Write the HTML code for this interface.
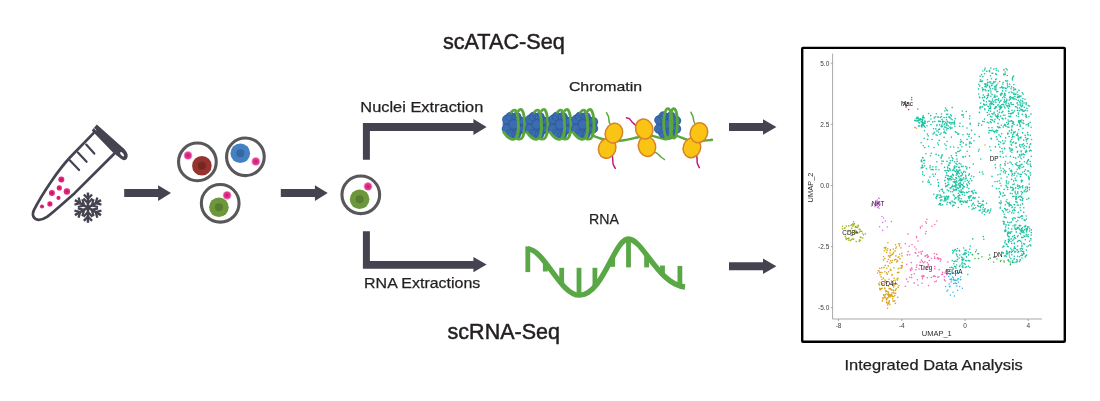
<!DOCTYPE html><html><head><meta charset="utf-8"><title>scATAC / scRNA workflow</title>
<style>html,body{margin:0;padding:0;background:#fff;}body{width:1100px;height:401px;overflow:hidden;font-family:"Liberation Sans",sans-serif;}svg{display:block;position:absolute;left:0;top:0;}text{font-family:"Liberation Sans",sans-serif;fill:#231f20;}svg{will-change:transform;}</style>
</head><body>
<svg width="1100" height="401" viewBox="0 0 1100 401">
<rect width="1100" height="401" fill="#ffffff"/>
<g id="tube" fill="none" stroke="#454350" stroke-linecap="round" stroke-linejoin="round">
<path d="M93.8 132.9 L69.9 157.5 C62 166,57 173,50.9 181.9 C45 190.5,39 200,34 209.9 C31.5 215,33.5 219.5,38.5 219.8 C41.5 219.9,44.5 218.6,47 216.9 C56 210,65 201.5,74.9 192.9 L113.7 154.2" stroke-width="2.7"/>
<path d="M86.2 144.6L94.3 153.6M77.9 152.5L86.6 161.8M70 160.4L79.1 170" stroke-width="2.2"/>
</g>
<path d="M96.8 124.6 L122.6 147.6 C126 150.5,128.6 154,127.5 157.2 C126.4 160.6,123.5 161,121 158.8 L113.7 153.2 L91.7 130.6 Z" fill="#454350"/>
<ellipse cx="122.1" cy="154.3" rx="2.7" ry="1.25" transform="rotate(50 122.1 154.3)" fill="#fff"/>
<path d="M94.3 128.4L96.2 130.2" stroke="#fff" stroke-width="0.8"/>
<circle cx="61.3" cy="179.5" r="3" fill="#e4247f"/><circle cx="61.3" cy="179.5" r="1.05" fill="#a8175f"/>
<circle cx="59.3" cy="187.9" r="2.6" fill="#e4247f"/><circle cx="59.3" cy="187.9" r="0.91" fill="#a8175f"/>
<circle cx="66.9" cy="191.5" r="3.2" fill="#e4247f"/><circle cx="66.9" cy="191.5" r="1.12" fill="#a8175f"/>
<circle cx="51.9" cy="192.9" r="3" fill="#e4247f"/><circle cx="51.9" cy="192.9" r="1.05" fill="#a8175f"/>
<circle cx="58.5" cy="197.9" r="2.1" fill="#e4247f"/><circle cx="58.5" cy="197.9" r="0.73" fill="#a8175f"/>
<circle cx="49.9" cy="203.9" r="2.6" fill="#e4247f"/><circle cx="49.9" cy="203.9" r="0.91" fill="#a8175f"/>
<circle cx="42" cy="206.5" r="2.1" fill="#e4247f"/><circle cx="42" cy="206.5" r="0.73" fill="#a8175f"/>
<g stroke="#454350" stroke-linecap="butt" fill="none" transform="translate(87.95 207.65)">
<g transform="rotate(0)"><path d="M0 0V-15.1" stroke-width="2.5"/><path d="M0 -4.4L-4.5 -9.1M0 -4.4L4.5 -9.1" stroke-width="2.3"/><path d="M0 -9.0L-4.1 -13.2M0 -9.0L4.1 -13.2" stroke-width="2.3"/></g>
<g transform="rotate(60)"><path d="M0 0V-15.1" stroke-width="2.5"/><path d="M0 -4.4L-4.5 -9.1M0 -4.4L4.5 -9.1" stroke-width="2.3"/><path d="M0 -9.0L-4.1 -13.2M0 -9.0L4.1 -13.2" stroke-width="2.3"/></g>
<g transform="rotate(120)"><path d="M0 0V-15.1" stroke-width="2.5"/><path d="M0 -4.4L-4.5 -9.1M0 -4.4L4.5 -9.1" stroke-width="2.3"/><path d="M0 -9.0L-4.1 -13.2M0 -9.0L4.1 -13.2" stroke-width="2.3"/></g>
<g transform="rotate(180)"><path d="M0 0V-15.1" stroke-width="2.5"/><path d="M0 -4.4L-4.5 -9.1M0 -4.4L4.5 -9.1" stroke-width="2.3"/><path d="M0 -9.0L-4.1 -13.2M0 -9.0L4.1 -13.2" stroke-width="2.3"/></g>
<g transform="rotate(240)"><path d="M0 0V-15.1" stroke-width="2.5"/><path d="M0 -4.4L-4.5 -9.1M0 -4.4L4.5 -9.1" stroke-width="2.3"/><path d="M0 -9.0L-4.1 -13.2M0 -9.0L4.1 -13.2" stroke-width="2.3"/></g>
<g transform="rotate(300)"><path d="M0 0V-15.1" stroke-width="2.5"/><path d="M0 -4.4L-4.5 -9.1M0 -4.4L4.5 -9.1" stroke-width="2.3"/><path d="M0 -9.0L-4.1 -13.2M0 -9.0L4.1 -13.2" stroke-width="2.3"/></g>
</g>
<path d="M124.2 189.1H158.1V185.29999999999998L171 193.1L158.1 200.9V197.1H124.2Z" fill="#454350"/>
<circle cx="197.4" cy="161.9" r="18.85" fill="#fff" stroke="#58585b" stroke-width="3.1"/>
<circle cx="201.9" cy="165.7" r="9.8" fill="#96332f"/><circle cx="201.9" cy="165.7" r="4" fill="#762724"/>
<circle cx="188" cy="155.4" r="4.4" fill="#f5a3ca"/><circle cx="188" cy="155.4" r="3.5" fill="#e5308a"/><circle cx="188" cy="155.4" r="1.4" fill="#b0287a"/>
<circle cx="245.4" cy="156.8" r="18.85" fill="#fff" stroke="#58585b" stroke-width="3.1"/>
<circle cx="240.3" cy="153.2" r="9.8" fill="#4580c2"/><circle cx="240.3" cy="153.2" r="4" fill="#34689f"/>
<circle cx="255.8" cy="161.4" r="4.4" fill="#f5a3ca"/><circle cx="255.8" cy="161.4" r="3.5" fill="#e5308a"/><circle cx="255.8" cy="161.4" r="1.4" fill="#b0287a"/>
<circle cx="220.2" cy="203.3" r="18.85" fill="#fff" stroke="#58585b" stroke-width="3.1"/>
<circle cx="218.9" cy="207.3" r="9.8" fill="#6c983b"/><circle cx="218.9" cy="207.3" r="4" fill="#587c30"/>
<circle cx="227.1" cy="195.3" r="4.4" fill="#f5a3ca"/><circle cx="227.1" cy="195.3" r="3.5" fill="#e5308a"/><circle cx="227.1" cy="195.3" r="1.4" fill="#b0287a"/>
<path d="M280.8 189.1H314.9V185.29999999999998L327.7 193.1L314.9 200.9V197.1H280.8Z" fill="#454350"/>
<circle cx="360.8" cy="194.8" r="18.85" fill="#fff" stroke="#58585b" stroke-width="3.1"/>
<circle cx="359.6" cy="199.3" r="9.8" fill="#6c983b"/><circle cx="359.6" cy="199.3" r="4" fill="#587c30"/>
<circle cx="368" cy="186.4" r="4.4" fill="#f5a3ca"/><circle cx="368" cy="186.4" r="3.5" fill="#e5308a"/><circle cx="368" cy="186.4" r="1.4" fill="#b0287a"/>
<path d="M362.9 159.8V122.9H473.4V119.1L486.6 127L473.4 134.9V131.1H369.9V159.8Z" fill="#454350"/>
<path d="M362.9 231.2V268.8H473.4V272.3L486.6 264.6L473.4 256.9V261.1H369.9V231.2Z" fill="#454350"/>
<path d="M729 123.0H763V119.2L776.4 127L763 134.8V131.0H729Z" fill="#454350"/>
<path d="M729 262.2H763V258.4L776.4 266.2L763 274.0V270.2H729Z" fill="#454350"/>
<text x="442.9" y="49.3" font-size="22.3" font-weight="normal" textLength="121.9" lengthAdjust="spacingAndGlyphs" stroke="#231f20" stroke-width="0.5">scATAC-Seq</text>
<text x="447.6" y="338.8" font-size="22.3" font-weight="normal" textLength="112.4" lengthAdjust="spacingAndGlyphs" stroke="#231f20" stroke-width="0.5">scRNA-Seq</text>
<text x="360.3" y="111.85" font-size="15.3" font-weight="normal" textLength="123.0" lengthAdjust="spacingAndGlyphs" stroke="#231f20" stroke-width="0.25">Nuclei Extraction</text>
<text x="364.1" y="287.7" font-size="15.1" font-weight="normal" textLength="116.2" lengthAdjust="spacingAndGlyphs" stroke="#231f20" stroke-width="0.25">RNA Extractions</text>
<text x="568.9" y="90.5" font-size="13.6" font-weight="normal" textLength="73.2" lengthAdjust="spacingAndGlyphs" stroke="#231f20" stroke-width="0.25">Chromatin</text>
<text x="589.1" y="224.4" font-size="15.3" font-weight="normal" textLength="29.9" lengthAdjust="spacingAndGlyphs" stroke="#231f20" stroke-width="0.25">RNA</text>
<text x="844.5" y="369.6" font-size="15.1" font-weight="normal" textLength="178.3" lengthAdjust="spacingAndGlyphs" stroke="#231f20" stroke-width="0.25">Integrated Data Analysis</text>
<g id="rna" fill="none" stroke="#5aa745">
<path d="M527.8 248.9 C545 250,560 295.2,579.5 295.2 C603 295.2,614 239,628.4 239 C643 239,658 284.5,685 287" stroke-width="5.3"/>
<path d="M527.8 246.4V272.1" stroke-width="4.8"/>
<path d="M545.3 262.5V271.5" stroke-width="4.8"/>
<path d="M561.7 267.8V284" stroke-width="4.8"/>
<path d="M579 267.8V294" stroke-width="4.8"/>
<path d="M594.9 267.8V286" stroke-width="4.8"/>
<path d="M612.7 256V266.8" stroke-width="4.8"/>
<path d="M628.5 238V267.4" stroke-width="4.8"/>
<path d="M646.6 254V267.4" stroke-width="4.8"/>
<path d="M662.5 265.5V276" stroke-width="4.8"/>
<path d="M679.9 265.9V286.5" stroke-width="4.8"/>
</g>
<path d="M592 135.3 C597 137.5,603 139.5,610 141 C620 142,630 139,637 137.5 C645 136,649 135.3,652.5 135.9 C656 136.6,660 138.6,665 139.2 C670 139.6,674 137,676.7 135.9 C681 137,684 139.5,692 141 C700 141.5,706 140.5,712 139.8" fill="none" stroke="#5aa83c" stroke-width="2.4" stroke-linecap="round"/>
<g transform="translate(513 125.1)">
<ellipse cx="0.6" cy="0.3" rx="9.6" ry="11.6" fill="#3c6db0"/><ellipse cx="-5.4" cy="-0.6" rx="5" ry="7" fill="#3c6db0"/>
<circle cx="-6.0" cy="-5.6" r="4.7" fill="#3c6db0"/>
<circle cx="-6.4" cy="3.8" r="4.7" fill="#3c6db0"/>
<circle cx="-2.6" cy="-8.4" r="4.7" fill="#3c6db0"/>
<circle cx="-3.0" cy="8.8" r="4.7" fill="#3c6db0"/>
<circle cx="3.6" cy="-8.2" r="4.7" fill="#3c6db0"/>
<circle cx="3.4" cy="9.0" r="4.7" fill="#3c6db0"/>
<circle cx="6.6" cy="-4" r="4.7" fill="#3c6db0"/>
<circle cx="6.6" cy="4.5" r="4.7" fill="#3c6db0"/>
<circle cx="11" cy="-3.2" r="4.7" fill="#3c6db0"/>
<circle cx="11" cy="3.4" r="4.7" fill="#3c6db0"/>
<circle cx="-6.0" cy="-5.6" r="4.5" fill="none" stroke="#2a5596" stroke-width="0.6"/>
<circle cx="-6.4" cy="3.8" r="4.5" fill="none" stroke="#2a5596" stroke-width="0.6"/>
<circle cx="-2.6" cy="-8.4" r="4.5" fill="none" stroke="#2a5596" stroke-width="0.6"/>
<circle cx="-3.0" cy="8.8" r="4.5" fill="none" stroke="#2a5596" stroke-width="0.6"/>
<circle cx="3.6" cy="-8.2" r="4.5" fill="none" stroke="#2a5596" stroke-width="0.6"/>
<circle cx="3.4" cy="9.0" r="4.5" fill="none" stroke="#2a5596" stroke-width="0.6"/>
<circle cx="6.6" cy="-4" r="4.5" fill="none" stroke="#2a5596" stroke-width="0.6"/>
<circle cx="6.6" cy="4.5" r="4.5" fill="none" stroke="#2a5596" stroke-width="0.6"/>
<circle cx="11" cy="-3.2" r="4.5" fill="none" stroke="#2a5596" stroke-width="0.6"/>
<circle cx="11" cy="3.4" r="4.5" fill="none" stroke="#2a5596" stroke-width="0.6"/>
<circle cx="0.8" cy="-0.6" r="4.8" fill="#3c6db0" stroke="#2a5596" stroke-width="0.7"/>
<path d="M-9.2 8.2 C-6.5 12.5,-4 15,-1.4 15.5 C1 16,2.5 15.5,3.3 14.2 C5 10.5,5.6 5,5.4 -0.2 C5.2 -7,4.5 -12.5,2.8 -15 C1.5 -16.5,-0.5 -15.5,-1.6 -13.6" fill="none" stroke="#5aa83c" stroke-width="2.9" stroke-linecap="round" transform="translate(0 -0.4) scale(1 0.93)"/>
<path d="M4.4 15.3 C6.5 16,8.5 15.5,9.6 13.4 C11.2 10,11.8 5,11.7 -0.2 C11.6 -7,10.8 -13,9.1 -15.6 C8 -17,6.6 -16.5,5.6 -15" fill="none" stroke="#5aa83c" stroke-width="2.9" stroke-linecap="round" transform="translate(0 -0.4) scale(1 0.93)"/>
</g>
<g transform="translate(536.1 125.1)">
<ellipse cx="0.6" cy="0.3" rx="9.6" ry="11.6" fill="#3c6db0"/><ellipse cx="-5.4" cy="-0.6" rx="5" ry="7" fill="#3c6db0"/>
<circle cx="-6.0" cy="-5.6" r="4.7" fill="#3c6db0"/>
<circle cx="-6.4" cy="3.8" r="4.7" fill="#3c6db0"/>
<circle cx="-2.6" cy="-8.4" r="4.7" fill="#3c6db0"/>
<circle cx="-3.0" cy="8.8" r="4.7" fill="#3c6db0"/>
<circle cx="3.6" cy="-8.2" r="4.7" fill="#3c6db0"/>
<circle cx="3.4" cy="9.0" r="4.7" fill="#3c6db0"/>
<circle cx="6.6" cy="-4" r="4.7" fill="#3c6db0"/>
<circle cx="6.6" cy="4.5" r="4.7" fill="#3c6db0"/>
<circle cx="11" cy="-3.2" r="4.7" fill="#3c6db0"/>
<circle cx="11" cy="3.4" r="4.7" fill="#3c6db0"/>
<circle cx="-6.0" cy="-5.6" r="4.5" fill="none" stroke="#2a5596" stroke-width="0.6"/>
<circle cx="-6.4" cy="3.8" r="4.5" fill="none" stroke="#2a5596" stroke-width="0.6"/>
<circle cx="-2.6" cy="-8.4" r="4.5" fill="none" stroke="#2a5596" stroke-width="0.6"/>
<circle cx="-3.0" cy="8.8" r="4.5" fill="none" stroke="#2a5596" stroke-width="0.6"/>
<circle cx="3.6" cy="-8.2" r="4.5" fill="none" stroke="#2a5596" stroke-width="0.6"/>
<circle cx="3.4" cy="9.0" r="4.5" fill="none" stroke="#2a5596" stroke-width="0.6"/>
<circle cx="6.6" cy="-4" r="4.5" fill="none" stroke="#2a5596" stroke-width="0.6"/>
<circle cx="6.6" cy="4.5" r="4.5" fill="none" stroke="#2a5596" stroke-width="0.6"/>
<circle cx="11" cy="-3.2" r="4.5" fill="none" stroke="#2a5596" stroke-width="0.6"/>
<circle cx="11" cy="3.4" r="4.5" fill="none" stroke="#2a5596" stroke-width="0.6"/>
<circle cx="0.8" cy="-0.6" r="4.8" fill="#3c6db0" stroke="#2a5596" stroke-width="0.7"/>
<path d="M-9.2 8.2 C-6.5 12.5,-4 15,-1.4 15.5 C1 16,2.5 15.5,3.3 14.2 C5 10.5,5.6 5,5.4 -0.2 C5.2 -7,4.5 -12.5,2.8 -15 C1.5 -16.5,-0.5 -15.5,-1.6 -13.6" fill="none" stroke="#5aa83c" stroke-width="2.9" stroke-linecap="round" transform="translate(0 -0.4) scale(1 0.93)"/>
<path d="M4.4 15.3 C6.5 16,8.5 15.5,9.6 13.4 C11.2 10,11.8 5,11.7 -0.2 C11.6 -7,10.8 -13,9.1 -15.6 C8 -17,6.6 -16.5,5.6 -15" fill="none" stroke="#5aa83c" stroke-width="2.9" stroke-linecap="round" transform="translate(0 -0.4) scale(1 0.93)"/>
</g>
<g transform="translate(559.2 125.1)">
<ellipse cx="0.6" cy="0.3" rx="9.6" ry="11.6" fill="#3c6db0"/><ellipse cx="-5.4" cy="-0.6" rx="5" ry="7" fill="#3c6db0"/>
<circle cx="-6.0" cy="-5.6" r="4.7" fill="#3c6db0"/>
<circle cx="-6.4" cy="3.8" r="4.7" fill="#3c6db0"/>
<circle cx="-2.6" cy="-8.4" r="4.7" fill="#3c6db0"/>
<circle cx="-3.0" cy="8.8" r="4.7" fill="#3c6db0"/>
<circle cx="3.6" cy="-8.2" r="4.7" fill="#3c6db0"/>
<circle cx="3.4" cy="9.0" r="4.7" fill="#3c6db0"/>
<circle cx="6.6" cy="-4" r="4.7" fill="#3c6db0"/>
<circle cx="6.6" cy="4.5" r="4.7" fill="#3c6db0"/>
<circle cx="11" cy="-3.2" r="4.7" fill="#3c6db0"/>
<circle cx="11" cy="3.4" r="4.7" fill="#3c6db0"/>
<circle cx="-6.0" cy="-5.6" r="4.5" fill="none" stroke="#2a5596" stroke-width="0.6"/>
<circle cx="-6.4" cy="3.8" r="4.5" fill="none" stroke="#2a5596" stroke-width="0.6"/>
<circle cx="-2.6" cy="-8.4" r="4.5" fill="none" stroke="#2a5596" stroke-width="0.6"/>
<circle cx="-3.0" cy="8.8" r="4.5" fill="none" stroke="#2a5596" stroke-width="0.6"/>
<circle cx="3.6" cy="-8.2" r="4.5" fill="none" stroke="#2a5596" stroke-width="0.6"/>
<circle cx="3.4" cy="9.0" r="4.5" fill="none" stroke="#2a5596" stroke-width="0.6"/>
<circle cx="6.6" cy="-4" r="4.5" fill="none" stroke="#2a5596" stroke-width="0.6"/>
<circle cx="6.6" cy="4.5" r="4.5" fill="none" stroke="#2a5596" stroke-width="0.6"/>
<circle cx="11" cy="-3.2" r="4.5" fill="none" stroke="#2a5596" stroke-width="0.6"/>
<circle cx="11" cy="3.4" r="4.5" fill="none" stroke="#2a5596" stroke-width="0.6"/>
<circle cx="0.8" cy="-0.6" r="4.8" fill="#3c6db0" stroke="#2a5596" stroke-width="0.7"/>
<path d="M-9.2 8.2 C-6.5 12.5,-4 15,-1.4 15.5 C1 16,2.5 15.5,3.3 14.2 C5 10.5,5.6 5,5.4 -0.2 C5.2 -7,4.5 -12.5,2.8 -15 C1.5 -16.5,-0.5 -15.5,-1.6 -13.6" fill="none" stroke="#5aa83c" stroke-width="2.9" stroke-linecap="round" transform="translate(0 -0.4) scale(1 0.93)"/>
<path d="M4.4 15.3 C6.5 16,8.5 15.5,9.6 13.4 C11.2 10,11.8 5,11.7 -0.2 C11.6 -7,10.8 -13,9.1 -15.6 C8 -17,6.6 -16.5,5.6 -15" fill="none" stroke="#5aa83c" stroke-width="2.9" stroke-linecap="round" transform="translate(0 -0.4) scale(1 0.93)"/>
</g>
<g transform="translate(582.3 125.1)">
<ellipse cx="0.6" cy="0.3" rx="9.6" ry="11.6" fill="#3c6db0"/><ellipse cx="-5.4" cy="-0.6" rx="5" ry="7" fill="#3c6db0"/>
<circle cx="-6.0" cy="-5.6" r="4.7" fill="#3c6db0"/>
<circle cx="-6.4" cy="3.8" r="4.7" fill="#3c6db0"/>
<circle cx="-2.6" cy="-8.4" r="4.7" fill="#3c6db0"/>
<circle cx="-3.0" cy="8.8" r="4.7" fill="#3c6db0"/>
<circle cx="3.6" cy="-8.2" r="4.7" fill="#3c6db0"/>
<circle cx="3.4" cy="9.0" r="4.7" fill="#3c6db0"/>
<circle cx="6.6" cy="-4" r="4.7" fill="#3c6db0"/>
<circle cx="6.6" cy="4.5" r="4.7" fill="#3c6db0"/>
<circle cx="11" cy="-3.2" r="4.7" fill="#3c6db0"/>
<circle cx="11" cy="3.4" r="4.7" fill="#3c6db0"/>
<circle cx="-6.0" cy="-5.6" r="4.5" fill="none" stroke="#2a5596" stroke-width="0.6"/>
<circle cx="-6.4" cy="3.8" r="4.5" fill="none" stroke="#2a5596" stroke-width="0.6"/>
<circle cx="-2.6" cy="-8.4" r="4.5" fill="none" stroke="#2a5596" stroke-width="0.6"/>
<circle cx="-3.0" cy="8.8" r="4.5" fill="none" stroke="#2a5596" stroke-width="0.6"/>
<circle cx="3.6" cy="-8.2" r="4.5" fill="none" stroke="#2a5596" stroke-width="0.6"/>
<circle cx="3.4" cy="9.0" r="4.5" fill="none" stroke="#2a5596" stroke-width="0.6"/>
<circle cx="6.6" cy="-4" r="4.5" fill="none" stroke="#2a5596" stroke-width="0.6"/>
<circle cx="6.6" cy="4.5" r="4.5" fill="none" stroke="#2a5596" stroke-width="0.6"/>
<circle cx="11" cy="-3.2" r="4.5" fill="none" stroke="#2a5596" stroke-width="0.6"/>
<circle cx="11" cy="3.4" r="4.5" fill="none" stroke="#2a5596" stroke-width="0.6"/>
<circle cx="0.8" cy="-0.6" r="4.8" fill="#3c6db0" stroke="#2a5596" stroke-width="0.7"/>
<path d="M-9.2 8.2 C-6.5 12.5,-4 15,-1.4 15.5 C1 16,2.5 15.5,3.3 14.2 C5 10.5,5.6 5,5.4 -0.2 C5.2 -7,4.5 -12.5,2.8 -15 C1.5 -16.5,-0.5 -15.5,-1.6 -13.6" fill="none" stroke="#5aa83c" stroke-width="2.9" stroke-linecap="round" transform="translate(0 -0.4) scale(1 0.93)"/>
<path d="M4.4 15.3 C6.5 16,8.5 15.5,9.6 13.4 C11.2 10,11.8 5,11.7 -0.2 C11.6 -7,10.8 -13,9.1 -15.6 C8 -17,6.6 -16.5,5.6 -15" fill="none" stroke="#5aa83c" stroke-width="2.9" stroke-linecap="round" transform="translate(0 -0.4) scale(1 0.93)"/>
</g>
<path d="M609.8 123.6 C608 120,609.5 117.5,608 115.5 C607 114,606.8 113.2,606.5 112.7" fill="none" stroke="#5aa83c" stroke-width="1.5" stroke-linecap="round"/>
<path d="M612.4 156.5 C613.5 160,612 162.5,613.5 165 C614.3 166.5,614.8 167.5,615.3 168.3" fill="none" stroke="#c4177a" stroke-width="1.5" stroke-linecap="round"/>
<path d="M636 125.5 C633.5 123,632 122.5,631 120.5 C630 118.5,628.5 118,626.5 117.8" fill="none" stroke="#c4177a" stroke-width="1.5" stroke-linecap="round"/>
<path d="M655.5 152.4 C658 153,659 155.5,661 157 C662.3 158,663.4 158.8,664.4 159.5" fill="none" stroke="#5aa83c" stroke-width="1.5" stroke-linecap="round"/>
<path d="M694.8 123.4 C692.5 120,694 117.5,692.5 115.5 C691.6 114,691.2 113,691 112.2" fill="none" stroke="#5aa83c" stroke-width="1.5" stroke-linecap="round"/>
<path d="M696.6 156.1 C697.8 159.5,696.3 162,697.8 164.5 C698.5 166,699 167,699.4 167.7" fill="none" stroke="#c4177a" stroke-width="1.5" stroke-linecap="round"/>
<ellipse cx="607.2" cy="148.3" rx="8.6" ry="10.1" transform="rotate(20 607.2 148.3)" fill="#f9c414" stroke="#d5832a" stroke-width="1.5"/>
<ellipse cx="613.9" cy="133.1" rx="8.6" ry="10.1" transform="rotate(20 613.9 133.1)" fill="#f9c414" stroke="#d5832a" stroke-width="1.5"/>
<ellipse cx="647" cy="146.4" rx="8.6" ry="10.1" transform="rotate(-15 647 146.4)" fill="#f9c414" stroke="#d5832a" stroke-width="1.5"/>
<ellipse cx="644.2" cy="129" rx="8.6" ry="10.1" transform="rotate(-15 644.2 129)" fill="#f9c414" stroke="#d5832a" stroke-width="1.5"/>
<g transform="translate(667.3 124.7)">
<ellipse cx="0" cy="0" rx="11" ry="11.6" fill="#3c6db0"/>
<circle cx="-8.2" cy="-4.6" r="4.7" fill="#3c6db0"/>
<circle cx="-8.4" cy="4.2" r="4.7" fill="#3c6db0"/>
<circle cx="-4" cy="-8.4" r="4.7" fill="#3c6db0"/>
<circle cx="-4.2" cy="8.6" r="4.7" fill="#3c6db0"/>
<circle cx="3.6" cy="-8.2" r="4.7" fill="#3c6db0"/>
<circle cx="3.4" cy="8.8" r="4.7" fill="#3c6db0"/>
<circle cx="9" cy="-4" r="4.7" fill="#3c6db0"/>
<circle cx="9" cy="4.2" r="4.7" fill="#3c6db0"/>
<circle cx="-8.2" cy="-4.6" r="4.5" fill="none" stroke="#2a5596" stroke-width="0.6"/>
<circle cx="-8.4" cy="4.2" r="4.5" fill="none" stroke="#2a5596" stroke-width="0.6"/>
<circle cx="-4" cy="-8.4" r="4.5" fill="none" stroke="#2a5596" stroke-width="0.6"/>
<circle cx="-4.2" cy="8.6" r="4.5" fill="none" stroke="#2a5596" stroke-width="0.6"/>
<circle cx="3.6" cy="-8.2" r="4.5" fill="none" stroke="#2a5596" stroke-width="0.6"/>
<circle cx="3.4" cy="8.8" r="4.5" fill="none" stroke="#2a5596" stroke-width="0.6"/>
<circle cx="9" cy="-4" r="4.5" fill="none" stroke="#2a5596" stroke-width="0.6"/>
<circle cx="9" cy="4.2" r="4.5" fill="none" stroke="#2a5596" stroke-width="0.6"/>
<circle cx="-1.5" cy="-0.4" r="4.8" fill="#3c6db0" stroke="#2a5596" stroke-width="0.7"/>
<ellipse cx="0.6" cy="-1.3" rx="4.3" ry="14.7" fill="none" stroke="#5aa83c" stroke-width="2.7"/>
<ellipse cx="6.5" cy="-1.3" rx="3.6" ry="14.7" fill="none" stroke="#5aa83c" stroke-width="2.7"/>
</g>
<ellipse cx="691.9" cy="147.7" rx="8.6" ry="10.1" transform="rotate(20 691.9 147.7)" fill="#f9c414" stroke="#d5832a" stroke-width="1.5"/>
<ellipse cx="698.9" cy="132.7" rx="8.6" ry="10.1" transform="rotate(20 698.9 132.7)" fill="#f9c414" stroke="#d5832a" stroke-width="1.5"/>
<rect x="802.2" y="47.9" width="262.6" height="293.8" rx="0.8" fill="#fff" stroke="#000" stroke-width="2.4"/>
<g stroke="#8c8c8c" stroke-width="0.75" fill="none"><path d="M832.6 53.6V319H1041.9"/>
<path d="M830.8 63.2H832.6"/>
<path d="M830.8 124.4H832.6"/>
<path d="M830.8 185.5H832.6"/>
<path d="M830.8 246.6H832.6"/>
<path d="M830.8 307.7H832.6"/>
<path d="M838.6 319V321"/>
<path d="M901.8 319V321"/>
<path d="M965 319V321"/>
<path d="M1028.2 319V321"/>
</g>
<g font-size="6.5">
<text x="829.3" y="65.5" text-anchor="end" style="fill:#3c3c3c">5.0</text>
<text x="829.3" y="126.7" text-anchor="end" style="fill:#3c3c3c">2.5</text>
<text x="829.3" y="187.8" text-anchor="end" style="fill:#3c3c3c">0.0</text>
<text x="829.3" y="248.9" text-anchor="end" style="fill:#3c3c3c">-2.5</text>
<text x="829.3" y="310.0" text-anchor="end" style="fill:#3c3c3c">-5.0</text>
<text x="838.6" y="328.2" text-anchor="middle" style="fill:#3c3c3c">-8</text>
<text x="901.8" y="328.2" text-anchor="middle" style="fill:#3c3c3c">-4</text>
<text x="965" y="328.2" text-anchor="middle" style="fill:#3c3c3c">0</text>
<text x="1028.2" y="328.2" text-anchor="middle" style="fill:#3c3c3c">4</text>
<text x="936.8" y="336.3" text-anchor="middle" font-size="7.5" style="fill:#2c2c2c">UMAP_1</text>
<text transform="translate(813.2 187.5) rotate(-90)" text-anchor="middle" font-size="7.5" style="fill:#2c2c2c">UMAP_2</text>
</g>
<g id="pts">
<path d="M1007.5 87.1h0M1017.6 256.3h0M1022.2 230.5h0M928.6 113.5h0M1005.0 115.3h0M1005.7 125.3h0M1001.7 104.8h0M914.8 120.4h0M962.9 265.7h0M1028.4 245.7h0M1001.7 133.8h0M945.6 122.2h0M969.5 118.8h0M1006.9 100.8h0M950.1 188.1h0M959.6 126.3h0M1010.9 258.6h0M955.9 186.6h0M965.4 156.5h0M922.5 157.8h0M1020.0 187.6h0M1019.1 185.5h0M936.9 125.8h0M984.5 96.9h0M921.9 127.0h0M1004.3 106.3h0M1011.5 129.3h0M1012.4 123.5h0M1021.2 174.3h0M996.6 130.4h0M1016.2 171.6h0M987.7 211.3h0M1017.2 261.8h0M959.1 177.1h0M953.7 251.8h0M992.0 73.2h0M1005.2 88.1h0M1021.2 150.8h0M921.3 161.1h0M1000.2 208.2h0M962.2 173.5h0M995.0 119.2h0M959.2 163.4h0M975.3 192.8h0M924.2 175.5h0M969.5 183.8h0M942.3 189.2h0M988.2 106.6h0M980.7 103.1h0M960.1 187.4h0M993.7 104.6h0M1022.1 103.3h0M989.5 86.3h0M946.6 130.0h0M1017.9 252.2h0M999.6 109.7h0M922.7 171.9h0M979.2 210.5h0M999.4 102.6h0M992.2 119.9h0M964.0 171.3h0M990.8 119.6h0M1021.9 246.2h0M949.5 270.9h0M959.5 167.6h0M959.1 258.1h0M933.8 194.3h0M1009.4 204.4h0M942.0 200.0h0M984.7 69.9h0M998.1 114.1h0M1012.3 164.5h0M960.9 192.5h0M1016.7 197.1h0M1023.7 230.9h0M930.9 124.5h0M960.0 123.2h0M1008.4 228.2h0M972.9 192.4h0M1013.9 217.7h0M983.8 104.8h0M994.5 132.6h0M1023.7 140.2h0M1031.2 156.3h0M928.6 146.3h0M967.4 185.4h0M1019.4 186.8h0M1007.3 75.5h0M945.4 127.0h0M954.8 126.2h0M952.6 205.9h0M987.6 97.4h0M1021.9 197.2h0M1017.3 205.0h0M1029.4 177.8h0M1014.8 89.4h0M1020.3 157.0h0M980.0 107.4h0M933.0 134.1h0M952.6 174.2h0M1003.1 119.1h0M1004.7 93.3h0M1025.2 135.4h0M951.3 176.1h0M1006.2 243.9h0M932.8 121.9h0M972.8 198.1h0M1009.6 84.2h0M1017.5 110.4h0M1006.9 244.5h0M1023.0 237.6h0M1028.2 236.8h0M1018.8 166.1h0M1022.7 187.8h0M955.7 183.9h0M939.0 195.1h0M1027.2 138.9h0M1007.4 202.9h0M1022.6 204.1h0M1003.3 252.9h0M988.6 95.5h0M947.1 128.4h0M987.4 122.3h0M952.6 170.3h0M1007.9 163.2h0M1018.7 167.8h0M1020.3 125.0h0M1026.4 230.4h0M1019.7 96.1h0M983.9 104.2h0M1029.9 244.7h0M1024.5 229.5h0M997.7 105.1h0M1021.2 158.8h0M1020.2 102.9h0M1014.5 110.9h0M991.2 102.4h0M1013.6 76.0h0M990.9 209.1h0M1013.9 213.0h0M933.8 176.2h0M1020.2 187.1h0M1012.2 187.5h0M1014.9 227.0h0M964.9 201.1h0M973.3 208.1h0M994.4 108.5h0M956.7 166.7h0M927.0 125.8h0M941.0 157.4h0M1009.5 147.9h0M1022.4 227.9h0M991.5 138.9h0M957.1 182.1h0M1030.5 175.1h0M961.4 191.0h0M1022.5 172.2h0M1012.6 210.7h0M1022.6 199.9h0M1007.4 246.2h0M1029.6 228.8h0M1003.9 102.0h0M918.6 122.3h0M1025.5 187.2h0M952.9 267.8h0M1017.8 191.8h0M979.4 97.0h0M1002.3 151.3h0M1009.0 92.6h0M1000.3 151.7h0M1020.8 241.3h0M952.2 107.6h0M1023.6 251.6h0M1011.6 243.5h0M970.2 246.1h0M1020.0 155.6h0M974.3 198.5h0M1027.8 134.5h0M1014.3 243.1h0M922.5 123.6h0M992.5 99.0h0M1023.3 153.9h0M1012.7 77.7h0M1028.7 171.1h0M961.7 115.0h0M956.9 159.1h0M970.3 178.8h0M1001.2 106.7h0M1020.2 259.7h0M951.8 186.8h0M954.9 179.6h0M1011.7 231.7h0M1022.0 232.2h0M948.2 175.9h0M1009.1 86.6h0M1003.2 168.8h0M949.3 117.0h0M1018.4 138.0h0M1021.1 110.2h0M939.4 197.8h0M995.2 114.9h0M968.8 188.5h0M984.6 211.2h0M959.8 255.0h0M1016.6 229.1h0M1016.2 164.5h0M1018.3 157.0h0M918.6 118.5h0M998.6 98.6h0M1019.8 168.0h0M1009.2 252.8h0M952.8 253.1h0M992.9 83.2h0M988.8 123.0h0M953.3 175.6h0M963.4 177.9h0M934.5 132.2h0M969.4 142.0h0M1012.2 193.8h0M1007.6 209.6h0M1005.5 161.6h0M1006.6 105.5h0M1012.5 236.6h0M932.4 169.5h0M1018.1 173.4h0M1004.8 148.8h0M936.0 197.9h0M960.9 164.1h0M1005.3 74.1h0M1024.5 154.8h0M997.7 91.6h0M1030.3 150.3h0M1022.5 251.5h0M1010.7 98.2h0M949.7 168.5h0M990.3 210.9h0M961.1 189.8h0M1005.3 165.0h0M939.7 203.6h0M1027.3 162.0h0M1006.5 186.7h0M950.3 127.3h0M978.9 203.2h0M953.4 194.9h0M1003.8 223.1h0M995.1 100.3h0M955.9 187.5h0M1025.4 169.8h0M922.1 166.0h0M915.9 120.9h0M956.2 175.2h0M1012.8 98.7h0M990.4 107.6h0M936.3 113.8h0M960.2 144.8h0M1012.3 142.8h0M1001.8 86.6h0M1005.9 90.7h0M997.2 115.5h0M921.1 142.7h0M922.7 117.8h0M953.2 123.7h0M1026.2 228.9h0M947.1 141.5h0M1010.8 248.2h0M1012.3 251.3h0M999.0 134.9h0M966.8 168.9h0M1006.4 182.9h0M941.0 199.8h0M1020.4 199.9h0M963.5 183.0h0M997.6 117.2h0M961.2 172.3h0M937.3 195.9h0M963.0 156.5h0M923.5 123.9h0M989.9 146.8h0M940.1 134.5h0M1013.6 142.1h0M1010.2 233.4h0M935.4 116.7h0M1017.7 186.5h0M1020.6 233.9h0M1027.4 187.5h0M1020.2 249.0h0M1000.3 108.6h0M997.0 96.3h0M921.6 124.8h0M1000.0 127.6h0M1014.3 173.2h0M982.4 172.0h0M1016.1 194.2h0M938.7 155.4h0M1023.8 157.3h0M941.0 133.0h0M944.3 131.3h0M1017.4 97.3h0M960.2 202.2h0M984.5 97.4h0M1011.9 148.7h0M1021.2 191.6h0M1007.4 83.3h0M978.4 125.4h0M1026.8 231.9h0M1027.6 187.2h0M940.5 200.7h0M987.2 95.6h0M932.9 166.8h0M993.8 81.9h0M1018.8 227.2h0M920.5 118.9h0M921.3 167.9h0M1018.5 121.9h0M1000.5 94.6h0M958.3 199.9h0M948.6 171.1h0M941.0 205.3h0M986.0 90.8h0M1025.5 137.5h0M927.5 122.0h0M1012.4 149.9h0M1006.0 156.2h0M919.6 123.0h0M967.5 192.5h0M969.6 198.0h0M1020.0 174.4h0M1013.9 84.5h0M930.5 155.8h0M1000.4 136.4h0M1006.9 81.0h0M1027.2 110.7h0M974.3 190.2h0M961.5 257.1h0M944.1 137.4h0M947.6 179.0h0M1014.7 204.8h0M1020.8 147.0h0M1015.8 143.1h0M952.9 158.8h0M1009.3 255.0h0M1029.4 241.2h0M991.8 104.3h0M1031.4 229.9h0M1022.7 132.9h0M1018.5 114.0h0M1014.9 228.5h0M1013.3 188.7h0M938.6 132.0h0M999.7 81.5h0M924.7 160.3h0M986.0 85.9h0M1019.9 120.7h0M936.0 166.9h0M987.6 115.2h0M953.3 181.7h0M1009.1 136.5h0M966.6 266.8h0M1012.8 196.6h0M1030.2 164.1h0M948.3 179.4h0M1006.5 253.0h0M1010.0 162.0h0M1005.9 171.6h0M1014.3 243.8h0M1019.2 225.6h0M1029.4 151.0h0M1025.5 256.6h0M936.3 198.4h0M1017.4 228.5h0M969.3 173.9h0M991.2 122.6h0M995.7 73.9h0M987.7 85.4h0M1013.2 97.3h0M972.2 209.3h0M955.0 167.8h0M1008.0 253.0h0M1018.6 197.2h0M950.7 203.8h0M942.4 121.3h0M1008.6 174.5h0M997.0 84.8h0M953.7 190.2h0M1020.8 210.2h0M1010.8 187.8h0M960.4 142.1h0M957.7 187.8h0M922.1 167.7h0M982.9 209.2h0M980.1 76.2h0M1010.3 113.6h0M941.4 116.5h0M982.5 201.3h0M1007.9 124.4h0M950.8 191.7h0M947.0 186.1h0M966.3 253.3h0M956.0 152.9h0M969.2 134.4h0M998.5 116.3h0M989.5 70.5h0M1016.0 262.1h0M995.0 181.7h0M977.6 205.5h0M946.0 185.9h0M937.7 143.0h0M1027.2 143.5h0M967.3 180.5h0M995.8 79.8h0M960.2 200.9h0M1023.8 253.2h0M1029.6 187.6h0M954.4 122.4h0M969.6 167.7h0M963.6 248.0h0M951.4 267.3h0M990.7 111.2h0M923.9 125.6h0M1017.6 250.1h0M1015.8 94.1h0M1020.8 251.0h0M1008.6 113.5h0M992.7 73.3h0M991.0 138.4h0M950.3 202.2h0M1009.4 130.9h0M1024.3 107.2h0M955.5 131.9h0M996.1 68.5h0M994.0 121.1h0M1008.5 121.8h0M1004.2 125.5h0M1008.2 246.7h0M1018.4 139.2h0M980.4 210.0h0M1026.3 150.4h0M1008.1 105.8h0M1021.7 194.0h0M985.1 208.8h0M1004.2 214.3h0M1006.5 253.9h0M966.9 167.2h0M1031.2 150.7h0M1001.4 125.2h0M964.8 195.3h0M1023.6 254.1h0M956.6 173.4h0M975.7 207.7h0M1016.2 232.1h0M990.5 75.8h0M961.7 179.0h0M1026.8 151.3h0M1004.3 125.1h0M1003.5 246.0h0M979.7 85.9h0M957.1 164.8h0M992.9 114.1h0M948.8 184.4h0M994.8 89.1h0M1019.5 225.6h0M943.7 192.3h0M941.9 125.1h0M953.2 179.0h0M1003.7 74.0h0M936.6 196.5h0M1007.4 234.0h0M959.9 195.6h0M960.4 201.8h0M921.2 160.9h0M947.3 202.3h0M1014.9 173.4h0M940.3 117.5h0M1005.1 241.0h0M995.3 107.1h0M949.9 169.9h0M972.1 191.1h0M1022.5 132.8h0M1029.2 184.1h0M1022.5 249.1h0M939.7 124.9h0M1006.2 88.5h0M990.7 68.1h0M958.8 183.7h0M941.8 156.1h0M991.2 130.8h0M996.2 116.4h0M971.4 195.8h0M923.1 116.7h0M1012.0 110.3h0M1021.1 231.4h0M1011.0 88.8h0M1021.3 180.5h0M1002.8 247.2h0M941.9 125.1h0M1025.6 151.9h0M954.5 196.0h0M1009.0 127.3h0M946.4 119.7h0M969.5 155.9h0M1005.6 255.6h0M967.1 151.2h0M924.2 138.3h0M1019.4 196.5h0M1022.6 105.1h0M949.8 122.3h0M1004.6 170.4h0M1009.4 236.7h0M1024.8 110.7h0M947.8 185.1h0M946.9 124.2h0M1010.4 204.9h0M1015.6 89.4h0M1003.7 87.7h0M1014.3 256.3h0M1016.6 198.6h0M965.2 264.3h0M924.1 117.9h0M1030.9 240.0h0M974.6 205.3h0M1006.8 99.3h0M947.5 121.2h0M1015.8 201.8h0M982.2 80.9h0M1014.8 132.1h0M1018.0 96.6h0M982.2 204.2h0M1002.0 148.5h0M1015.2 131.8h0M941.8 163.8h0M1016.1 196.4h0M996.5 74.5h0M917.2 121.0h0M976.2 193.1h0M956.8 261.2h0M929.9 167.8h0M1021.5 228.8h0M973.3 164.1h0M1000.3 156.8h0M1025.3 256.9h0M922.0 122.1h0M922.7 119.4h0M1010.8 141.0h0M996.7 91.7h0M922.8 181.7h0M1027.1 186.8h0M993.8 82.7h0M1007.4 85.1h0M958.4 172.7h0M1003.6 104.8h0M1023.7 253.2h0M946.8 123.3h0M1029.4 146.3h0M1015.5 143.4h0M922.0 161.7h0M1027.4 229.7h0M948.5 180.0h0M1018.6 120.8h0M1016.1 180.6h0M920.2 120.0h0M997.4 111.1h0M1007.5 234.4h0M978.1 201.4h0M1012.3 78.5h0M937.1 135.3h0M1031.2 235.1h0M1015.7 251.8h0M946.9 204.2h0M934.1 133.0h0M1017.7 192.3h0M960.1 182.6h0M978.5 88.9h0M951.2 122.7h0M1004.4 195.3h0M959.3 173.8h0M923.7 160.5h0M1017.7 135.7h0M1011.9 104.5h0M1002.4 210.5h0M954.8 189.9h0M994.5 86.9h0M1016.3 221.8h0M999.1 127.0h0M962.2 184.9h0M981.7 125.1h0M1016.2 143.1h0M965.1 179.1h0M1011.8 254.7h0M964.0 187.1h0M982.7 90.8h0M1023.1 94.1h0M1027.4 190.9h0M1013.2 189.9h0M958.7 171.1h0M1024.5 244.1h0M980.1 108.8h0M1017.2 165.6h0M986.4 104.8h0M946.9 161.4h0M1004.1 217.1h0M1028.3 160.2h0M994.5 131.5h0M988.8 90.8h0M1029.3 147.6h0M952.3 160.5h0M959.0 190.7h0M952.0 177.4h0M949.4 163.1h0M969.6 146.9h0M959.2 170.0h0M1018.1 217.2h0M1025.6 116.8h0M947.8 178.2h0M951.4 155.7h0M1024.1 253.5h0M1012.5 79.9h0M996.0 89.4h0M1012.0 207.6h0M1027.6 160.7h0M950.1 180.0h0M988.5 210.1h0M1001.1 178.2h0M954.8 181.6h0M1007.2 253.9h0M1021.4 154.4h0M957.3 174.3h0M989.6 212.9h0M1019.1 228.8h0M954.7 161.7h0M983.0 174.1h0M963.5 117.2h0M1028.9 116.8h0M962.0 259.4h0M1020.8 216.6h0M955.4 261.1h0M974.2 208.7h0M1023.4 120.8h0M958.3 193.3h0M1026.0 103.8h0M940.6 195.4h0M1005.5 118.4h0M1022.0 164.2h0M918.4 120.4h0M995.9 87.7h0M1004.9 124.4h0M969.7 260.9h0M965.4 260.5h0M963.8 259.0h0M1011.8 120.9h0M958.2 176.1h0M1019.6 161.5h0M950.5 178.3h0M1024.7 220.4h0M967.0 139.4h0M1026.1 216.0h0M989.8 104.1h0M958.7 133.9h0M1000.3 207.2h0M995.6 131.0h0M954.5 121.0h0M996.3 85.9h0M922.9 122.6h0M982.5 106.9h0M945.2 197.6h0M1013.9 124.5h0M982.4 204.7h0M1030.2 122.3h0M969.5 143.7h0M1005.2 72.0h0M989.6 71.7h0M930.7 115.6h0M1027.9 124.4h0M983.5 100.4h0M1017.8 193.7h0M1026.4 174.9h0M1021.0 164.8h0M944.4 127.0h0M1020.9 96.1h0M959.4 198.6h0M923.2 115.9h0M1021.6 180.4h0M1015.2 218.3h0M1030.1 144.3h0M995.6 167.8h0M1020.7 230.3h0M972.5 204.3h0M962.9 266.1h0M1024.4 171.2h0M1022.9 232.0h0M990.9 93.0h0M963.1 157.4h0M1027.6 226.7h0M1006.1 224.9h0M1009.5 168.8h0M1007.0 177.1h0M961.9 146.8h0M1014.2 184.0h0M1004.9 195.4h0M1022.5 180.6h0M1013.8 94.3h0M1015.0 207.6h0M962.4 260.7h0M1011.1 238.9h0M941.2 126.6h0M1030.9 245.8h0M990.0 105.8h0M966.5 192.4h0M1017.2 125.1h0M995.2 81.8h0M1000.2 87.8h0M923.3 145.8h0M960.1 170.1h0M1013.5 132.4h0M995.8 102.4h0M954.4 186.2h0M1021.8 237.4h0M971.2 143.5h0M1001.4 93.2h0M961.6 180.6h0M997.3 181.5h0M1008.2 133.3h0M1028.6 176.4h0M968.5 266.3h0M1016.5 147.2h0M1022.5 192.5h0M944.8 144.0h0M958.7 167.2h0M1016.9 176.0h0M1010.1 148.9h0M1015.1 178.3h0M996.4 136.9h0M1026.6 163.1h0M1013.6 87.9h0M949.4 178.7h0M1011.4 252.5h0M1026.2 234.3h0M1031.1 166.6h0M1011.9 126.9h0M970.5 252.7h0M1021.7 243.1h0M1000.6 203.6h0M1006.0 101.3h0M1010.3 96.6h0M1022.0 254.0h0M1007.1 69.9h0M946.5 172.9h0M968.5 196.5h0M1000.7 142.3h0M922.8 117.2h0M955.3 203.3h0M1022.8 185.7h0M1010.0 116.4h0M947.4 197.3h0M1015.7 180.1h0M992.1 94.6h0M939.2 140.4h0M957.5 256.6h0M995.3 86.0h0M944.8 123.7h0M1010.0 121.3h0M987.7 82.4h0M1016.5 115.7h0M1011.4 170.4h0M930.1 165.9h0M945.8 200.6h0M988.3 106.5h0M922.1 121.6h0M925.3 121.3h0M923.0 167.5h0M1012.8 112.9h0M965.7 175.3h0M922.5 119.6h0M1011.6 145.3h0M998.4 100.4h0M1000.5 168.0h0M1026.9 199.3h0M1025.6 225.6h0M1003.2 253.3h0M972.8 238.9h0M946.3 175.2h0M971.4 138.0h0M943.9 129.1h0M990.4 121.8h0M1023.7 212.4h0M966.1 144.4h0M948.0 182.3h0M1001.9 112.6h0M956.9 185.2h0M968.6 260.6h0M993.8 69.1h0M952.0 201.1h0M938.6 121.4h0M979.9 97.7h0M984.9 86.7h0M956.7 178.3h0M1016.1 199.6h0M1019.9 101.9h0M966.1 250.4h0M927.4 134.1h0M957.5 248.5h0M1020.9 105.2h0M960.7 139.8h0M949.5 122.9h0M942.2 126.1h0M956.1 197.9h0M957.4 259.4h0M953.7 147.0h0M958.3 172.5h0M967.0 128.0h0M1021.3 106.8h0M988.3 93.9h0M1016.1 147.1h0M1016.0 94.1h0M939.9 121.3h0M940.7 197.2h0M979.6 172.3h0M981.4 81.6h0M1000.2 174.1h0M1005.2 141.0h0M992.0 127.8h0M1013.9 196.2h0M928.6 180.3h0M1026.2 115.5h0M956.8 132.5h0M1030.4 245.1h0M984.1 121.7h0M956.9 250.8h0M968.4 182.5h0M1011.1 120.8h0M1005.7 80.7h0M1026.3 230.8h0M952.7 174.7h0M959.2 185.6h0M1003.9 75.0h0M1010.7 187.0h0M950.6 128.7h0M1021.1 151.8h0M984.5 119.1h0M1011.7 171.4h0M928.2 135.9h0M999.6 191.8h0M962.8 267.5h0M929.4 182.4h0M1022.1 218.7h0M1014.1 175.3h0M956.1 184.5h0M959.6 179.3h0M1020.9 109.3h0M1000.1 183.3h0M922.9 167.4h0M1014.6 225.0h0M1013.9 93.1h0M1020.1 259.9h0M1006.5 250.9h0M924.9 147.6h0M1018.4 240.6h0M968.5 198.0h0M983.7 89.2h0M1004.9 231.4h0M1008.0 233.5h0M985.3 84.6h0M984.7 84.0h0M1011.0 252.0h0M956.4 254.0h0M962.6 259.9h0M1000.2 156.2h0M1005.8 209.4h0M961.7 141.6h0M1025.7 152.6h0M1004.2 143.1h0M1015.6 158.0h0M1002.9 111.4h0M958.0 196.4h0M965.2 264.3h0M1006.7 122.5h0M948.4 165.1h0M1028.8 123.5h0M1025.0 99.2h0M1015.7 158.3h0M1023.8 111.3h0M969.7 200.3h0M948.1 125.9h0M983.5 205.0h0M967.2 187.3h0M916.2 118.7h0M958.2 197.8h0M1012.2 125.9h0M956.5 189.9h0M1009.3 206.1h0M950.2 163.1h0M947.6 167.1h0M1016.8 202.2h0M983.3 95.1h0M939.7 129.1h0M942.4 191.1h0M1009.8 222.6h0M1018.8 251.6h0M980.3 206.4h0M970.1 123.3h0M1000.9 95.5h0M951.0 124.1h0M1007.6 81.0h0M997.7 118.2h0M944.8 111.0h0M950.4 170.1h0M1007.8 235.6h0M963.0 201.4h0M988.8 127.8h0M1007.9 222.5h0M995.6 108.0h0M981.6 74.6h0M984.8 108.8h0M958.0 188.1h0M941.8 196.9h0M976.4 250.0h0M1002.0 252.1h0M921.1 121.7h0M982.1 212.9h0M995.4 146.9h0M1017.4 241.8h0M1004.0 246.2h0M1020.7 100.2h0M1004.5 99.9h0M1028.1 135.0h0M948.8 117.0h0M959.8 185.3h0M921.2 119.4h0M967.0 202.8h0M1018.8 165.8h0M962.3 111.0h0M938.7 129.6h0M1003.9 69.6h0M1022.6 133.0h0M961.3 184.6h0M1011.2 238.5h0M918.9 120.2h0M1012.5 260.7h0M1009.0 116.4h0M1015.1 191.3h0M991.9 117.0h0M959.6 266.4h0M1020.5 176.8h0M978.9 123.4h0M973.2 193.6h0M961.6 201.3h0M990.3 88.9h0M956.1 188.1h0M925.2 127.2h0M1010.2 151.1h0M992.0 176.4h0M1004.1 102.2h0M945.6 198.7h0M1015.4 106.6h0M1010.8 103.8h0M965.6 172.1h0M994.1 113.1h0M958.0 172.6h0M1025.0 173.8h0M1022.3 114.4h0M1025.7 189.6h0M1001.8 107.4h0M1019.5 168.7h0M1017.3 152.1h0M949.4 202.7h0M938.2 117.1h0M1004.4 224.0h0M972.7 254.6h0M959.6 251.1h0M956.8 170.3h0M950.5 147.0h0M1019.8 165.3h0M959.4 250.4h0M989.0 100.9h0M982.6 121.2h0M962.9 191.9h0M1026.2 139.5h0M1024.3 236.5h0M1022.2 92.8h0M995.7 99.8h0M945.6 108.1h0M1026.9 108.4h0M955.7 266.8h0M1007.7 189.5h0M1011.0 102.5h0M942.2 154.9h0M1012.0 173.3h0M937.4 117.0h0M1015.2 192.9h0M1005.6 137.9h0M1016.9 259.6h0M1006.4 180.9h0M955.1 186.0h0M1003.3 157.2h0M965.0 250.2h0M958.4 207.5h0M971.5 176.0h0M965.2 267.4h0M999.8 147.1h0M1007.6 222.0h0M919.4 119.4h0M1022.0 144.9h0M1011.8 229.1h0M1009.8 211.3h0M1010.9 114.0h0M1003.4 211.9h0M970.4 196.1h0M1000.9 108.1h0M922.3 121.6h0M922.8 124.9h0M1006.1 185.4h0M982.9 71.0h0M944.6 167.4h0M947.6 170.3h0M1009.2 232.9h0M1012.9 236.2h0M957.6 270.8h0M952.2 119.8h0M1019.0 90.4h0M1002.7 140.8h0M1011.0 144.2h0M1019.6 240.5h0M1000.2 105.7h0M1022.5 105.9h0M992.8 88.7h0M990.1 101.5h0M1011.2 163.0h0M956.9 173.1h0M995.0 100.3h0M917.1 118.4h0M982.9 76.6h0M999.3 180.8h0M990.6 107.0h0M1011.9 175.8h0M993.7 101.9h0M955.4 197.9h0M1021.9 109.7h0M918.5 125.9h0M996.9 99.5h0M954.8 170.9h0M1008.1 120.1h0M957.7 188.0h0M948.7 190.9h0M962.0 264.1h0M953.8 263.7h0M960.0 191.9h0M990.5 103.8h0M1009.1 205.0h0M1013.7 133.1h0M989.3 108.5h0M957.8 151.6h0M999.1 106.7h0M986.8 71.4h0M952.5 185.4h0M941.1 158.3h0M1020.6 205.0h0M1011.9 152.3h0M983.5 104.1h0M1024.2 148.3h0M941.9 161.1h0M952.3 201.7h0M984.0 101.0h0M1011.3 92.0h0M1017.1 202.4h0M1017.3 227.5h0M958.4 195.7h0M983.3 236.6h0M978.5 206.2h0M1004.8 208.6h0M955.2 271.7h0M1008.8 182.0h0M1011.6 86.9h0M1011.8 113.3h0M947.8 114.3h0M988.7 110.4h0M946.3 196.5h0M1008.7 108.2h0M944.9 180.2h0M963.6 259.4h0M957.4 171.6h0M963.0 166.3h0M1019.7 108.0h0M1012.5 218.5h0M1026.3 102.7h0M936.0 134.7h0M1001.1 100.2h0M946.5 125.2h0M1031.1 127.2h0M964.1 263.6h0M944.1 196.6h0M952.6 170.2h0M1014.0 248.3h0M1030.4 165.8h0M998.6 127.7h0M960.2 178.8h0M1011.8 97.5h0M1012.2 92.8h0M1005.4 229.3h0M989.3 82.1h0M947.8 197.1h0M971.7 205.7h0M997.5 126.7h0M966.4 256.9h0M938.9 169.7h0M1000.6 164.7h0M962.6 188.1h0M992.3 120.3h0M1014.8 98.7h0M974.9 134.2h0M1008.9 225.3h0M1006.1 201.6h0M1004.3 221.8h0M1003.7 224.0h0M1026.2 219.1h0M947.2 190.0h0M941.2 189.5h0M942.0 119.4h0M933.2 169.8h0M1003.2 143.8h0M930.8 184.2h0M1019.2 110.7h0M1017.5 236.6h0M968.9 136.4h0M953.4 169.9h0M954.7 266.4h0M989.3 71.0h0M1026.0 116.7h0M1020.9 138.0h0M957.6 134.1h0M934.0 147.5h0M1016.9 162.8h0M1015.6 238.3h0M1007.7 106.8h0M1006.2 102.7h0M994.6 96.1h0M924.6 165.7h0M943.0 121.2h0M1018.6 114.1h0M944.1 201.1h0M1007.7 134.1h0M1028.6 125.9h0M992.2 130.2h0M943.9 121.6h0M1006.0 230.7h0M1000.9 201.1h0M1017.7 220.6h0M962.4 174.9h0M1016.3 231.9h0M932.1 139.5h0M947.8 168.1h0M1019.6 145.9h0M1014.0 209.4h0M1030.1 172.9h0M1014.0 262.3h0M996.8 132.2h0M945.6 186.6h0M1013.4 90.1h0M1001.2 170.8h0M999.4 202.8h0M1011.6 179.4h0M1015.8 225.0h0M947.3 110.6h0M954.6 123.9h0M1014.9 210.4h0M927.6 139.4h0M954.1 168.5h0M944.1 124.8h0M1025.2 110.4h0M994.5 121.9h0M926.4 168.8h0M1002.0 112.3h0M946.6 196.3h0M996.1 78.9h0M958.5 184.3h0M1008.0 212.2h0M1022.3 255.4h0M984.7 209.9h0M1012.5 207.0h0M944.1 117.6h0M940.3 121.5h0M941.5 114.0h0M924.5 130.7h0M969.3 174.2h0M1005.0 230.6h0M954.5 250.2h0M1012.9 184.5h0M942.6 204.6h0M999.0 188.5h0M1015.4 248.4h0M989.1 130.5h0M968.5 254.9h0M1017.7 133.2h0M917.9 117.2h0M1020.6 225.5h0M1012.3 121.6h0M962.2 266.8h0M959.2 151.3h0M955.0 185.6h0M980.1 81.4h0M959.6 186.8h0M1005.7 226.9h0M988.9 132.9h0M1012.1 137.6h0M949.9 176.6h0M948.1 128.5h0M1029.5 106.0h0M1028.2 105.6h0M992.4 103.7h0M982.3 87.9h0M1003.1 104.2h0M1005.3 95.2h0M1009.6 106.5h0M989.5 254.9h0M1016.5 107.0h0M919.6 126.0h0M1001.8 87.4h0M943.9 132.6h0M936.9 161.8h0M1014.9 96.5h0M997.6 130.7h0M1002.8 84.1h0M1022.4 203.5h0M956.4 155.6h0M953.0 186.4h0M989.7 130.4h0M978.5 151.1h0M966.1 201.7h0M1025.1 220.5h0M1011.6 139.5h0M969.8 249.2h0M925.9 153.8h0M1005.1 101.6h0M996.5 188.6h0M1007.8 187.5h0M960.4 180.6h0M955.9 268.3h0M1021.0 255.5h0M981.4 205.6h0M1002.1 118.4h0M971.4 200.2h0M971.8 180.7h0M937.7 179.7h0M1011.8 212.9h0M1010.3 156.2h0M954.0 205.3h0M1016.4 135.1h0M1010.6 170.9h0M934.2 117.9h0M968.8 206.8h0M961.4 175.8h0M952.7 191.8h0M1024.4 190.9h0M1023.0 111.2h0M998.4 71.0h0M1008.4 239.5h0M956.6 265.0h0M965.8 176.7h0M1022.0 167.2h0M1013.0 225.7h0M969.9 267.5h0M952.7 250.2h0M950.7 114.7h0M996.5 70.2h0M990.6 82.1h0M993.5 131.2h0M955.9 181.9h0M956.5 178.5h0M984.5 214.5h0M961.5 204.4h0M938.4 185.2h0M986.5 101.7h0M1028.0 164.2h0M958.5 188.5h0M1009.2 240.5h0M969.1 181.2h0M984.9 105.1h0M922.6 174.2h0M998.7 144.4h0M1006.1 256.6h0M1015.7 198.9h0M945.9 127.3h0M978.9 197.3h0M1003.4 115.3h0M1013.7 180.9h0M1017.5 97.6h0M1012.8 134.6h0M965.0 254.6h0M1006.2 217.7h0M1019.5 96.4h0M997.0 117.1h0M963.3 114.9h0M939.4 191.1h0M1022.1 229.9h0M1026.0 236.3h0M1024.5 145.5h0M961.7 192.5h0M998.0 123.4h0M1019.9 144.5h0M925.3 123.1h0M1024.0 232.7h0M1026.8 139.2h0M995.2 164.8h0M1017.9 104.9h0M983.1 211.2h0M1009.4 105.1h0M1019.5 261.4h0M942.5 121.7h0M1024.3 226.6h0M1004.8 163.5h0M1021.8 215.9h0M987.9 106.2h0M1008.6 203.5h0M954.2 166.9h0M1010.5 232.0h0M936.0 169.4h0M1022.6 101.5h0M965.5 166.5h0M924.2 122.9h0M1004.2 189.4h0M1015.7 187.9h0M943.9 192.9h0M949.6 117.8h0M988.3 90.9h0M986.7 98.6h0M1011.1 241.5h0M1009.1 111.2h0M963.3 142.9h0M963.4 202.3h0M946.0 133.3h0M1014.5 210.2h0M998.3 104.7h0M1022.1 186.5h0M956.4 251.0h0M952.1 157.5h0M955.8 177.5h0M1028.9 227.0h0M1009.6 97.4h0M962.9 126.2h0M984.8 109.7h0M975.3 197.7h0M1004.4 94.8h0M1017.7 108.1h0M1000.0 107.1h0M1022.6 216.0h0M1001.3 94.1h0M954.8 202.3h0M1005.3 173.3h0M1002.9 196.1h0M964.3 186.7h0M950.3 160.8h0M951.0 118.7h0M956.0 163.4h0M954.1 261.5h0M982.6 97.6h0M991.6 85.8h0M962.9 188.7h0M1009.2 100.1h0M943.4 161.3h0M962.5 257.7h0M973.4 197.6h0M953.9 202.3h0M991.5 78.8h0M1002.9 153.1h0M958.1 147.7h0M968.9 191.6h0M1024.4 161.7h0M1018.7 139.9h0M1013.5 188.2h0M989.7 87.3h0M987.4 79.8h0M986.6 203.3h0M961.1 179.3h0M985.1 68.1h0M1026.7 117.3h0M963.0 134.7h0M1011.9 130.6h0M1008.7 260.5h0M944.8 180.8h0M939.0 204.6h0M1013.7 250.2h0M962.1 262.9h0M1012.8 240.2h0M937.0 194.7h0M1028.6 178.3h0M996.1 89.9h0M935.4 174.1h0M962.3 115.0h0M937.0 130.9h0M1022.6 144.7h0M1014.0 136.8h0M949.9 127.2h0M994.0 112.3h0M984.6 73.8h0M1011.6 150.3h0M966.7 184.1h0M1004.9 97.6h0M1019.8 137.7h0M1027.5 132.5h0M1026.3 146.7h0M1010.3 99.1h0M1024.0 102.9h0M947.8 175.5h0M975.6 251.7h0M995.8 106.8h0M1008.5 103.6h0M1008.4 111.1h0M944.7 198.6h0M1011.4 222.1h0M1019.4 217.6h0M1027.4 228.3h0M990.5 107.5h0M1013.6 122.0h0M1019.6 122.4h0M996.4 106.9h0M962.9 179.8h0M1022.1 155.0h0M971.4 191.6h0M987.7 210.3h0M1027.0 246.8h0M1013.5 98.9h0M942.5 122.9h0M958.8 180.7h0M1002.7 97.8h0M990.8 150.3h0M945.9 170.5h0M1008.3 225.0h0M1013.4 123.0h0M1007.9 126.9h0M1002.5 90.9h0M1003.2 221.2h0M1020.2 199.8h0M1031.0 114.1h0M1023.7 123.4h0M1022.0 258.0h0M992.4 186.0h0M1005.4 204.8h0M938.8 121.0h0M1024.2 191.8h0M1017.6 246.0h0M1017.4 102.8h0M991.4 103.6h0M1013.4 112.4h0M1024.2 219.9h0M991.0 83.2h0M1028.1 138.6h0M984.2 105.0h0M1001.1 185.8h0M1005.4 231.3h0M1007.7 133.4h0M940.4 203.9h0M938.3 144.8h0M995.3 96.9h0M987.3 112.5h0M983.8 239.3h0M921.6 160.0h0M954.8 199.1h0M1030.9 238.5h0M1019.6 256.7h0M924.2 126.2h0M1026.3 255.5h0M958.6 197.5h0M1003.2 192.9h0M1021.3 250.7h0M989.5 213.0h0M959.3 185.5h0M1003.9 96.3h0M1017.8 94.8h0M980.5 207.4h0M1013.1 76.9h0M1025.4 239.8h0M980.0 203.5h0M1020.3 126.1h0M971.6 130.4h0M1006.1 210.7h0M969.8 116.1h0M982.6 97.8h0M1024.1 235.7h0M953.4 175.0h0M922.2 125.8h0M954.9 166.1h0M1004.4 256.0h0M956.3 153.0h0M946.1 149.0h0M992.0 84.9h0M966.3 178.3h0M1015.6 229.5h0M1017.3 134.6h0M983.3 207.3h0M917.5 120.6h0M963.5 172.3h0M1030.3 135.2h0M1025.7 114.4h0M1018.3 113.0h0M1010.3 193.3h0M965.5 202.3h0M1021.1 120.2h0M946.5 117.4h0M958.3 171.6h0M1022.0 245.3h0M937.0 124.7h0M962.6 184.7h0M1007.1 253.2h0M995.0 95.1h0M1023.1 146.7h0M944.8 199.7h0M935.8 128.9h0M1027.3 188.6h0M945.3 132.9h0M1020.6 105.3h0M1023.4 143.8h0M1008.4 242.5h0M965.0 181.3h0M960.5 176.0h0M973.4 203.4h0M954.3 167.8h0M1019.5 154.7h0M1022.7 109.9h0M955.4 249.6h0M953.2 189.0h0M1013.4 104.5h0M1013.6 157.3h0M1026.1 104.7h0M922.4 120.4h0M1018.7 129.8h0M1016.9 249.7h0M954.6 182.6h0M1004.3 74.8h0M946.4 109.8h0M992.0 113.7h0M923.0 157.9h0M1017.2 169.3h0M1015.3 89.4h0M1015.5 164.1h0M999.3 119.7h0M946.4 114.3h0M1018.2 188.5h0M1017.2 261.1h0M962.4 194.6h0M959.9 201.0h0M968.6 175.2h0M1014.7 237.4h0M1007.1 251.4h0M1020.1 104.9h0M946.7 199.1h0M938.3 182.6h0M1009.2 239.2h0M1008.5 232.0h0M1003.1 82.3h0M1018.2 136.0h0M921.4 126.0h0M1022.1 200.4h0M1014.1 204.5h0M924.1 163.2h0M1027.4 171.0h0M1020.0 126.2h0M1011.9 249.8h0M956.7 169.8h0M979.3 136.6h0M1008.5 236.7h0M1017.3 92.1h0M1019.4 123.8h0M928.0 182.1h0M1008.1 183.7h0M1018.5 205.2h0M1002.9 153.0h0M934.8 121.5h0M938.5 186.2h0M1003.2 127.1h0M916.9 117.3h0M1014.7 94.5h0M992.4 103.3h0M1023.6 166.8h0M992.2 100.9h0M1012.7 262.4h0M1026.3 250.1h0M966.3 111.5h0M999.3 197.1h0M1021.4 197.2h0M1026.2 191.8h0M986.0 212.2h0M990.5 116.4h0M922.4 165.4h0M1011.2 132.8h0M990.9 91.1h0M1031.3 232.6h0M990.5 108.7h0M1021.4 181.9h0M945.5 177.4h0M979.1 149.2h0M921.6 125.8h0M944.9 170.7h0M995.3 89.7h0M1014.5 235.5h0M947.9 122.0h0M1002.8 88.1h0M1020.5 176.5h0M980.8 106.9h0M1020.1 233.4h0M1005.0 93.7h0M990.8 96.2h0M1012.2 190.2h0M1002.3 93.6h0M1014.4 246.9h0M991.8 85.8h0M961.6 166.4h0M985.3 89.9h0M931.1 169.6h0M950.0 117.5h0M930.9 119.0h0M949.2 158.0h0M970.7 142.2h0M953.4 269.1h0M951.4 137.1h0M1022.3 101.1h0M963.1 254.5h0M948.6 196.4h0M964.8 253.7h0M1028.7 198.4h0M960.4 186.2h0M1023.8 207.7h0M959.1 195.5h0M1012.6 136.2h0M1025.3 226.8h0M1014.0 259.2h0M1007.8 232.4h0M965.0 252.6h0M974.0 140.7h0M1019.7 229.5h0M961.3 198.7h0M960.4 150.2h0M1029.2 179.6h0M1018.3 212.4h0M1026.5 141.1h0M956.8 255.0h0M1004.7 148.3h0M952.2 260.6h0M967.4 134.1h0M1021.4 248.3h0M929.1 121.2h0M998.9 141.4h0M964.1 253.8h0M1011.6 205.5h0M951.4 115.9h0M999.5 112.4h0M1018.3 100.4h0M960.3 183.5h0M949.5 117.2h0M1031.6 139.5h0M1005.5 240.8h0M963.3 186.1h0M1019.9 121.5h0M1009.1 241.2h0M1009.1 202.8h0M979.4 112.4h0M1009.4 251.6h0M969.8 197.5h0M1020.5 259.8h0M1029.4 189.8h0M1000.8 116.1h0M966.0 145.1h0M1016.0 196.7h0M1008.2 260.1h0M953.0 205.2h0M931.2 153.2h0M966.8 260.8h0M1030.3 161.5h0M1006.9 199.7h0M1005.0 165.3h0M1010.3 141.9h0M952.8 122.6h0M956.0 189.9h0M929.9 177.1h0M1001.2 202.8h0M950.9 187.9h0M941.9 126.2h0M968.2 252.1h0M956.3 181.0h0M1008.4 123.6h0M1004.8 242.8h0M978.8 84.2h0M1008.4 241.5h0M969.7 196.4h0M936.1 154.4h0M980.8 159.0h0M964.3 192.8h0M1018.1 235.5h0M1017.7 151.3h0M1020.8 196.0h0M1009.6 257.0h0M982.7 89.7h0M955.2 118.6h0M1020.1 207.7h0M978.7 94.0h0M1014.2 258.9h0M1015.6 197.0h0M986.0 83.9h0M1000.4 193.1h0M997.9 174.7h0M1018.2 96.3h0M1019.9 166.2h0M1014.7 251.9h0M983.4 201.1h0M1018.5 116.5h0M1000.2 101.2h0M1005.7 104.0h0M952.0 127.9h0M1030.7 143.9h0M959.5 195.0h0M1012.9 219.9h0M951.6 179.6h0M973.8 176.8h0M1004.9 107.9h0M1006.0 68.6h0M933.6 128.7h0M987.5 84.2h0M1013.9 239.1h0M1021.0 137.1h0M1028.4 159.5h0M932.9 174.3h0M924.6 121.1h0M1022.1 122.7h0M1028.1 234.8h0M949.2 165.3h0M1017.5 185.1h0M1017.0 103.3h0M945.5 183.6h0M1018.1 173.7h0M1019.1 97.5h0M957.2 161.4h0M1012.3 174.2h0M1000.4 194.1h0M946.1 145.5h0M947.9 198.9h0M1021.0 121.5h0M970.2 124.3h0M997.1 139.4h0M986.5 87.0h0M1023.0 128.4h0M1003.5 171.9h0M960.1 185.6h0M1024.4 191.0h0M1026.5 255.0h0M989.3 114.3h0M994.1 97.3h0M955.8 171.7h0M948.6 197.1h0M1010.7 116.6h0M1027.0 235.8h0M980.5 79.8h0M1026.1 124.8h0M1005.0 217.1h0M1022.9 198.6h0M924.3 123.6h0M1022.9 98.5h0M1029.5 231.0h0M941.9 126.7h0M1005.9 126.2h0M1016.2 99.6h0M967.5 200.9h0M1023.7 243.8h0" stroke="#1cc3a3" stroke-width="1.6" stroke-linecap="round" fill="none"/>
<path d="M859.2 241.4h0M857.8 226.8h0M856.9 231.7h0M859.1 229.0h0M852.9 226.2h0M854.4 223.5h0M860.3 237.0h0M861.0 237.6h0M852.5 224.1h0M852.0 224.6h0M850.4 240.5h0M854.2 224.2h0M848.9 231.5h0M851.0 225.6h0M858.1 225.2h0M853.9 223.8h0M844.6 228.3h0M852.8 238.7h0M855.9 226.4h0M842.5 228.9h0M851.7 228.4h0M860.4 240.3h0M856.2 241.6h0M850.7 240.5h0M848.6 238.2h0M848.8 225.9h0M851.6 239.5h0M848.7 240.1h0M845.8 238.0h0M851.2 235.5h0M863.6 234.9h0M854.8 232.7h0M852.5 235.4h0M855.3 231.9h0M847.3 238.5h0M854.9 233.8h0M851.7 232.8h0M845.0 227.9h0M855.1 233.5h0M855.8 227.3h0M862.8 238.0h0M853.7 239.3h0M860.8 231.3h0M842.5 226.2h0M855.2 230.3h0M853.6 221.8h0M857.1 227.6h0M858.4 225.8h0M846.3 226.1h0M860.1 229.7h0M857.7 233.2h0M862.5 233.2h0M850.5 230.5h0M853.6 225.0h0M855.2 227.1h0M865.4 233.8h0M845.3 236.2h0M859.6 240.1h0M859.5 232.1h0M849.1 238.2h0M861.7 231.3h0M846.4 239.6h0M850.4 240.5h0M854.5 230.5h0" stroke="#a2b022" stroke-width="1.6" stroke-linecap="round" fill="none"/>
<path d="M953.5 279.7h0M958.4 273.2h0M946.9 274.0h0M947.9 290.0h0M953.5 277.9h0M955.4 282.9h0M945.6 286.5h0M953.1 272.5h0M952.5 277.1h0M957.7 290.2h0M951.1 282.1h0M957.5 272.4h0M958.5 278.7h0M960.1 265.2h0M954.4 296.1h0M950.1 286.3h0M955.5 280.2h0M951.1 278.7h0M956.6 283.4h0M953.0 292.3h0M958.5 281.9h0M960.8 279.6h0M953.7 283.4h0M960.3 279.7h0M949.6 286.7h0M950.0 279.5h0M950.2 274.4h0M948.8 276.5h0M950.0 274.4h0M957.8 279.0h0M954.6 280.3h0M960.5 277.1h0M951.7 279.9h0M957.0 280.3h0M949.2 283.9h0M962.4 288.3h0M959.7 286.4h0M953.9 279.7h0M956.8 286.0h0M953.9 283.3h0M947.1 274.3h0M950.3 295.0h0M946.9 291.2h0M967.8 274.5h0M949.9 267.4h0" stroke="#2bb5e6" stroke-width="1.5" stroke-linecap="round" fill="none"/>
<path d="M885.7 291.6h0M893.3 283.2h0M899.5 245.9h0M895.4 303.4h0M894.8 300.7h0M884.3 250.8h0M879.7 288.4h0M890.4 270.2h0M890.5 249.7h0M891.4 290.0h0M895.2 293.2h0M888.6 302.3h0M899.6 243.9h0M886.1 290.8h0M883.3 278.4h0M884.9 280.1h0M886.3 283.2h0M893.1 253.6h0M896.3 247.1h0M891.9 275.3h0M893.7 292.9h0M895.5 244.8h0M886.6 302.5h0M892.5 296.4h0M879.7 268.3h0M889.9 255.9h0M891.8 254.8h0M882.1 288.3h0M890.6 260.8h0M898.9 272.2h0M891.4 281.1h0M886.7 299.9h0M879.8 272.6h0M895.1 290.5h0M887.8 303.3h0M881.1 288.9h0M887.8 304.9h0M890.0 295.9h0M890.2 289.1h0M889.3 301.4h0M901.6 268.1h0M879.1 271.0h0M889.9 263.1h0M877.6 273.0h0M896.8 261.9h0M890.1 297.0h0M884.0 267.4h0M886.5 302.0h0M886.6 302.7h0M893.0 300.9h0M890.7 288.9h0M898.1 287.4h0M894.2 278.3h0M901.0 247.9h0M887.9 242.8h0M887.8 248.8h0M894.2 301.3h0M891.2 295.0h0M882.0 272.6h0M885.5 280.8h0M893.4 280.9h0M886.6 252.6h0M884.9 258.6h0M897.0 279.0h0M895.9 255.9h0M883.4 278.1h0M896.3 288.8h0M885.8 247.4h0M887.1 250.6h0M888.1 265.8h0M893.5 252.2h0M898.8 256.7h0M889.4 288.4h0M895.6 289.7h0M902.2 265.6h0M898.1 278.2h0M893.9 286.9h0M894.7 295.5h0M882.4 283.9h0M889.3 294.7h0M892.9 254.3h0M895.8 259.3h0M891.7 295.9h0M887.3 274.3h0M897.1 284.3h0M900.2 259.0h0M890.0 253.1h0M884.9 296.3h0M887.9 294.6h0M886.7 298.9h0M898.8 243.7h0M891.0 255.2h0M891.9 294.8h0M895.0 250.9h0M889.1 288.7h0M902.2 266.4h0M889.9 304.5h0M886.7 293.7h0M901.8 253.3h0M887.5 281.7h0M891.0 270.2h0M899.9 258.6h0M889.0 279.3h0M894.5 259.9h0M887.5 308.2h0M890.1 297.0h0M888.5 292.0h0M888.7 296.7h0M883.6 256.8h0M897.6 261.1h0M888.4 295.6h0M889.1 303.2h0M880.1 289.9h0M892.9 285.6h0M887.8 297.9h0M892.3 260.7h0M893.8 296.7h0M893.4 292.3h0M886.6 299.2h0M885.6 247.8h0M888.6 271.7h0M895.7 293.3h0M881.8 279.5h0M885.0 296.3h0M902.0 255.9h0M897.5 272.6h0M878.8 283.9h0M899.7 254.2h0M879.6 285.1h0M891.8 289.8h0M892.2 274.5h0M879.9 282.3h0M899.0 285.7h0M885.6 282.5h0M893.8 285.2h0M882.9 297.7h0M881.7 267.9h0M882.8 299.0h0M881.1 276.9h0M895.8 248.2h0M888.4 266.1h0M888.4 259.5h0M898.6 272.6h0M885.6 297.8h0M885.8 249.2h0M895.1 280.2h0M889.1 294.3h0M888.4 292.4h0M897.8 297.4h0M893.3 290.4h0M887.3 291.5h0M883.8 295.5h0M882.3 300.9h0M890.3 250.6h0M884.1 297.7h0M897.3 261.2h0M900.2 268.0h0M885.3 294.6h0M884.9 288.8h0M886.8 268.3h0M884.2 283.9h0M902.2 262.2h0M887.3 261.6h0M880.1 274.8h0M891.8 262.5h0M889.8 257.4h0M898.4 268.6h0M901.1 265.5h0M902.0 266.9h0M886.7 272.9h0M888.4 255.9h0M880.4 272.5h0M878.2 270.8h0M897.2 260.2h0M888.6 294.0h0M885.2 265.4h0M898.1 257.3h0M893.3 249.0h0M885.7 290.9h0M883.6 294.7h0M888.4 286.0h0M891.9 284.3h0M890.5 269.2h0M897.3 280.1h0M884.3 247.9h0M884.9 271.7h0M883.5 259.9h0M884.7 288.1h0M890.0 294.6h0M891.3 295.4h0M889.3 300.7h0M893.9 267.7h0M894.1 284.9h0M891.9 293.1h0M892.6 298.8h0" stroke="#d9a521" stroke-width="1.6" stroke-linecap="round" fill="none"/>
<path d="M1009.1 261.8h0M975.0 258.4h0M1010.4 264.0h0M1008.2 260.0h0M982.0 256.8h0M972.2 254.7h0M978.6 253.8h0M990.0 258.1h0M990.3 258.4h0M1000.9 260.4h0M995.0 257.6h0M1000.5 261.5h0M977.9 253.8h0M1004.1 261.9h0M978.6 258.5h0M1010.8 262.0h0M1010.4 264.8h0M1004.0 260.9h0M993.7 261.9h0M988.5 259.4h0M993.7 257.3h0M996.9 258.9h0" stroke="#3fb34a" stroke-width="1.5" stroke-linecap="round" fill="none"/>
<path d="M922.4 278.7h0M947.9 262.1h0M924.9 261.7h0M934.8 266.5h0M946.5 269.9h0M919.1 269.1h0M916.5 267.2h0M937.3 257.9h0M934.4 253.5h0M921.4 260.1h0M919.6 265.3h0M929.3 260.5h0M922.7 277.1h0M938.6 258.4h0M905.3 286.3h0M908.1 251.6h0M926.9 255.4h0M927.3 254.8h0M906.6 279.1h0M908.1 234.1h0M906.7 264.3h0M910.3 269.3h0M918.0 285.2h0M934.8 258.5h0M928.2 265.9h0M909.8 277.2h0M920.9 252.0h0M925.2 256.3h0M921.9 276.4h0M940.2 258.7h0M920.2 262.3h0M939.2 269.7h0M938.8 276.7h0M942.6 274.2h0M922.1 283.2h0M926.1 269.1h0M936.3 281.1h0M916.9 265.1h0M936.7 254.4h0M918.9 252.3h0M922.3 261.6h0M940.4 261.1h0M923.2 275.5h0M937.7 277.2h0M942.6 272.4h0M933.4 276.4h0M944.4 279.9h0M928.4 264.3h0M922.9 269.4h0M912.0 269.1h0M931.3 277.5h0M935.4 276.5h0M905.3 243.7h0M925.2 255.9h0M907.4 254.9h0M928.4 256.4h0M914.2 283.1h0M917.8 255.9h0M921.5 254.1h0M908.0 281.6h0M927.5 257.4h0M927.3 277.8h0M915.9 269.7h0M945.9 271.5h0M923.5 262.7h0M941.9 274.6h0M945.4 281.0h0M931.5 258.5h0M917.4 279.8h0M911.7 268.1h0M911.7 277.6h0M915.9 253.3h0M944.9 273.0h0M915.2 252.6h0M922.4 251.2h0M928.5 285.6h0M921.4 253.9h0M924.0 276.2h0M934.2 275.7h0M934.6 257.0h0M927.3 262.8h0M914.3 273.8h0M909.8 254.7h0M941.0 259.2h0M934.8 281.7h0M934.8 268.8h0M938.3 259.2h0M944.4 276.8h0M910.8 270.6h0M911.3 262.6h0M946.8 274.5h0M911.6 274.7h0" stroke="#f466b6" stroke-width="1.6" stroke-linecap="round" fill="none"/>
<path d="M882.7 222.5h0M875.4 202.8h0M876.4 205.0h0M878.4 206.6h0M871.6 204.0h0M882.6 230.2h0M880.1 204.6h0M877.8 207.3h0M879.3 202.8h0M883.6 217.9h0M876.2 202.9h0M887.3 227.0h0M885.4 220.9h0M880.0 203.9h0M876.8 204.8h0M891.4 221.5h0M878.3 201.8h0M875.0 206.7h0M877.2 200.0h0M875.9 202.2h0M879.1 208.2h0M877.5 207.5h0M891.4 221.6h0M878.8 203.6h0M882.0 216.5h0M878.0 203.2h0M871.6 206.0h0M879.6 226.8h0M878.7 198.1h0M879.2 198.5h0M875.9 200.8h0" stroke="#d46ff0" stroke-width="1.5" stroke-linecap="round" fill="none"/>
<path d="M998.0 83.0h0M1022.0 120.0h0M1004.0 70.0h0M1000.0 166.0h0M985.0 145.0h0" stroke="#d9a521" stroke-width="1.4" stroke-linecap="round" fill="none"/>
<path d="M925.5 233.8h0M926.4 223.2h0M936.8 220.9h0M934.8 224.6h0M925.8 221.7h0M926.9 219.2h0M920.4 228.0h0M914.8 247.0h0M916.7 237.8h0M932.0 226.2h0M916.0 249.0h0M926.1 231.4h0M916.4 236.5h0M918.0 240.9h0M912.0 244.5h0M920.4 227.1h0M909.2 246.3h0M922.1 226.0h0" stroke="#f466b6" stroke-width="1.5" stroke-linecap="round" fill="none"/>
<path d="M905.0 104.0h0" stroke="#111" stroke-width="1.6" stroke-linecap="round" fill="none"/>
<path d="M911.7 99.8h0M911.7 97.6h0M917.8 109.0h0" stroke="#4a7fe0" stroke-width="1.6" stroke-linecap="round" fill="none"/>
<path d="M915.0 127.4h0" stroke="#e070e0" stroke-width="1.6" stroke-linecap="round" fill="none"/>
<path d="M916.4 128.2h0" stroke="#e0a030" stroke-width="1.6" stroke-linecap="round" fill="none"/>
<path d="M907.5 103.0h0" stroke="#222" stroke-width="1.6" stroke-linecap="round" fill="none"/>
<path d="M904.0 102.5h0" stroke="#333" stroke-width="1.6" stroke-linecap="round" fill="none"/>
<path d="M906.0 107.0h0" stroke="#a02030" stroke-width="1.6" stroke-linecap="round" fill="none"/>
<path d="M906.5 105.5h0" stroke="#7a1020" stroke-width="1.6" stroke-linecap="round" fill="none"/>
<path d="M908.6 109.6h0" stroke="#e03040" stroke-width="1.6" stroke-linecap="round" fill="none"/>
</g>
<g font-size="6.3">
<text x="907" y="105.5" text-anchor="middle" style="fill:#111">Mac</text>
<text x="994" y="161" text-anchor="middle" style="fill:#111">DP</text>
<text x="878" y="205.5" text-anchor="middle" style="fill:#111">NKT</text>
<text x="850.5" y="235" text-anchor="middle" style="fill:#111">CD8+</text>
<text x="889" y="286" text-anchor="middle" style="fill:#111">CD4+</text>
<text x="926" y="270" text-anchor="middle" style="fill:#111">Treg</text>
<text x="954" y="273.5" text-anchor="middle" style="fill:#111">iELpA</text>
<text x="998" y="256.5" text-anchor="middle" style="fill:#111">DN</text>
</g>
</svg></body></html>
